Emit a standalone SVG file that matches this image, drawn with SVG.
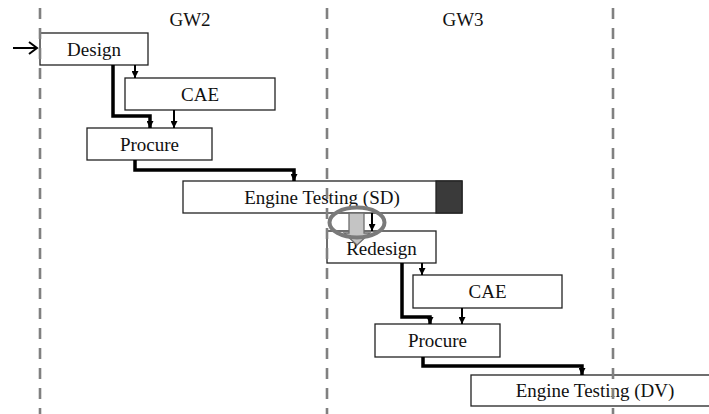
<svg xmlns="http://www.w3.org/2000/svg" width="709" height="414" viewBox="0 0 709 414">
<defs>
<style>
.box{fill:#fff;stroke:#222;stroke-width:1.3}
.t{font-family:"Liberation Serif","Times New Roman",serif;font-size:19px;fill:#111;text-anchor:middle}
.thin{fill:none;stroke:#000;stroke-width:2}
.thick{fill:none;stroke:#000;stroke-width:3.5}
.dash{stroke:#808080;stroke-width:2.6;stroke-dasharray:11 9}
</style>
<marker id="ah" viewBox="0 0 10 10" refX="10" refY="5" markerWidth="7" markerHeight="7" markerUnits="userSpaceOnUse" orient="auto">
<path d="M0,0 L10,5 L0,10 Z" fill="#000"/>
</marker>
</defs>
<rect width="709" height="414" fill="#fff"/>
<text class="t" x="190" y="26">GW2</text>
<text class="t" x="463" y="26">GW3</text>
<g id="design"><rect class="box" x="40" y="33" width="108" height="32"/><text class="t" x="94" y="56">Design</text></g>
<g id="cae1"><rect class="box" x="125" y="78" width="150" height="32"/><text class="t" x="200" y="101">CAE</text></g>
<g id="procure1"><rect class="box" x="87" y="128" width="125" height="32"/><text class="t" x="149.5" y="151">Procure</text></g>
<g id="testing-sd"><rect class="box" x="183" y="181" width="279" height="32"/><rect x="436" y="181" width="26" height="32" fill="#3a3a3a" stroke="#222" stroke-width="1.3"/><text class="t" x="322" y="204">Engine Testing (SD)</text></g>
<g id="redesign"><rect class="box" x="327" y="231" width="109" height="32"/><text class="t" x="381.5" y="255">Redesign</text></g>
<g id="cae2"><rect class="box" x="413" y="275" width="149" height="33"/><text class="t" x="487.5" y="298">CAE</text></g>
<g id="procure2"><rect class="box" x="375" y="324" width="125" height="33"/><text class="t" x="437.5" y="347">Procure</text></g>
<g id="testing-dv"><rect class="box" x="471" y="375" width="260" height="31"/><text class="t" x="595" y="397">Engine Testing (DV)</text></g>
<g id="gates">
<line class="dash" x1="40" y1="8" x2="40" y2="414"/>
<line class="dash" x1="327" y1="8" x2="327" y2="414"/>
<line class="dash" x1="613" y1="8" x2="613" y2="414"/>
</g>
<g id="connectors">
<line x1="13" y1="48" x2="36" y2="48" stroke="#000" stroke-width="2"/>
<polyline points="29,42 37,48 29,54" fill="none" stroke="#000" stroke-width="2"/>
<line class="thin" x1="135" y1="65" x2="135" y2="78" marker-end="url(#ah)"/>
<polyline class="thick" points="113,65 113,116 150,116 150,128" marker-end="url(#ah)"/>
<line class="thin" x1="174" y1="110" x2="174" y2="128" marker-end="url(#ah)"/>
<polyline class="thick" points="135,160 135,170 294,170 294,181" marker-end="url(#ah)"/>
<line class="thin" x1="372" y1="213" x2="372" y2="231" marker-end="url(#ah)"/>
<line class="thin" x1="422" y1="263" x2="422" y2="275" marker-end="url(#ah)"/>
<polyline class="thick" points="402,263 402,317 430,317 430,324" marker-end="url(#ah)"/>
<line class="thin" x1="462" y1="308" x2="462" y2="324" marker-end="url(#ah)"/>
<polyline class="thick" points="423,357 423,366 582,366 582,375" marker-end="url(#ah)"/>
</g>
<g id="highlight">
<polygon points="349,213 364,213 364,233 370,233 357,245 344,233 349,233" fill="#c4c4c4" stroke="#6e6e6e" stroke-width="1.3"/>
<ellipse cx="357" cy="222.5" rx="27.5" ry="15" fill="none" stroke="#7a7a7a" stroke-width="4"/>
</g>
</svg>
